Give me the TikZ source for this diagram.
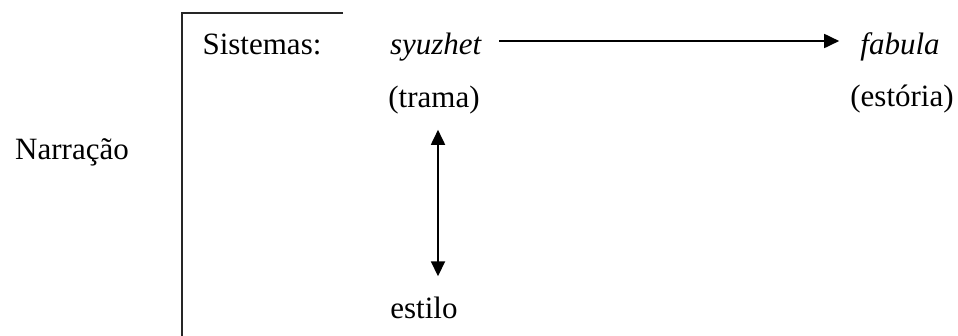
\documentclass[tikz,border=0pt]{standalone}
\usepackage{fontspec}
\setmainfont{Liberation Serif}
\usetikzlibrary{arrows.meta}
\usetikzlibrary{positioning}
\tikzset{
    txt/.style={
           inner sep=0pt,
           anchor=base,
           font=\fontsize{31}{36}\selectfont,
           },
}
\tikzset{
    row/.style={
           txt,
           text height=26pt,
           text depth=0pt,
           },
}
\tikzset{
    frame/.style={
           line width=1.8pt,
           draw=black!85,
           },
    conn/.style={
           line width=1.8pt,
           -{Triangle[length=15pt,width=14pt]},
           },
}

\begin{document}
\begin{tikzpicture}[x=1pt,y=-1pt]
\useasboundingbox (0,0) rectangle (958,335);
\node[txt](narr) at (72,159){Narração};
\coordinate (fl) at (182,13);
\coordinate (fr) at (343,13);
\coordinate (fb) at (182,336);
\draw[frame] (fr) -- (fl) -- (fb);
\node[row](sis) at (262,54){Sistemas:};
\node[row](syu) at (436,54){\textit{syuzhet}};
\node[row](fab) at (900,54){\textit{fabula}};
\node[txt](trama) at (434,107){(trama)};
\node[txt](estoria) at (902,106){(estória)};
\node[txt](estilo) at (424,318){estilo};
\draw[conn,shorten <=17pt,shorten >=21pt] (syu) -- (fab);
\draw[conn,{Triangle[length=15pt,width=14pt]}-{Triangle[length=15pt,width=14pt]},shorten <=16pt,shorten >=20pt] ([xshift=4pt]trama.south) -- ([xshift=4pt]trama.south |- estilo.north);
\end{tikzpicture}
\end{document}
